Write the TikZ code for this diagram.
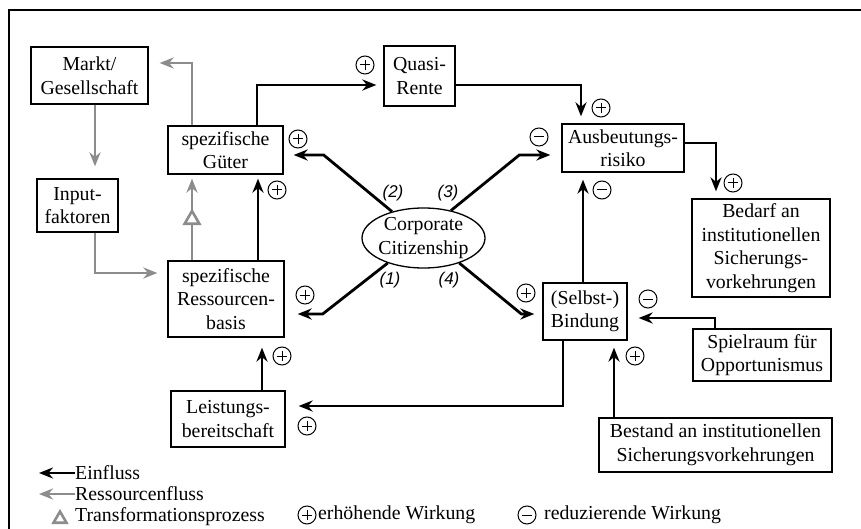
\documentclass[tikz,border=0pt]{standalone}
\usepackage{fontspec}
\setmainfont{Liberation Serif}
\setsansfont{Liberation Sans}
\usetikzlibrary{arrows.meta,shapes.geometric}

\definecolor{flowgray}{gray}{0.55}

\begin{document}
\begin{tikzpicture}[
    x=1pt, y=-1pt,
    font=\fontsize{19.8}{23.5}\selectfont,
    box/.style={draw, line width=1.3pt, align=center, inner sep=1pt},
    einfl/.style={line width=2.8pt, -{Stealth[length=14pt, width=11pt]}},
    flow/.style={einfl, draw=flowgray},
    num/.style={font=\sffamily\itshape\fontsize{17}{20}\selectfont},
    incr/.style={circle, draw, line width=1pt, minimum size=18pt, inner sep=0pt,
        path picture={\draw[line width=1pt]
            ([xshift=3.8pt]path picture bounding box.west) -- ([xshift=-3.8pt]path picture bounding box.east)
            ([yshift=-3.8pt]path picture bounding box.north) -- ([yshift=3.8pt]path picture bounding box.south);}},
    decr/.style={circle, draw, line width=1pt, minimum size=18pt, inner sep=0pt,
        path picture={\draw[line width=1pt]
            ([xshift=3.8pt]path picture bounding box.west) -- ([xshift=-3.8pt]path picture bounding box.east);}},
    transf/.style={regular polygon, regular polygon sides=3, draw=flowgray, fill=white,
        line width=2.6pt, minimum size=17pt, inner sep=0pt}
]
    \useasboundingbox (0,0) rectangle (861,529);
    \draw[line width=1.5pt] (9,529) |- (861,10);

    % Knoten
    \node[box, minimum width=117pt, minimum height=57pt] (markt) at (89.5,75.5) {Markt/\\Gesellschaft};
    \node[box, minimum width=115pt, minimum height=48pt] (gueter) at (225.5,150) {spezifische\\Güter};
    \node[box, minimum width=81pt, minimum height=53pt] (input) at (77.5,205.5) {Input-\\faktoren};
    \node[box, minimum width=116pt, minimum height=76pt] (ress) at (226,299) {spezifische\\Ressourcen-\\basis};
    \node[box, minimum width=114pt, minimum height=56pt] (leist) at (228,419) {Leistungs-\\bereitschaft};
    \node[box, minimum width=71pt, minimum height=60pt] (quasi) at (419.5,76) {Quasi-\\Rente};
    \node[box, minimum width=122pt, minimum height=48pt] (ausb) at (623,148) {Ausbeutungs-\\risiko};
    \node[box, minimum width=138pt, minimum height=98pt] (bedarf) at (761,248) {Bedarf an\\institutionellen\\Sicherungs-\\vorkehrungen};
    \node[box, minimum width=84pt, minimum height=57pt] (bind) at (585,311.5) {(Selbst-)\\Bindung};
    \node[box, minimum width=138pt, minimum height=52pt] (spiel) at (762,355) {Spielraum für\\Opportunismus};
    \node[box, minimum width=233pt, minimum height=54pt] (bestand) at (715.5,445) {Bestand an institutionellen\\Sicherungsvorkehrungen};
    \node[ellipse, draw, line width=1.3pt, align=center, inner xsep=-2pt, inner ysep=0pt,
        minimum width=123pt, minimum height=60pt] (cc) at (423.5,238) {Corporate\\Citizenship};

    % Ressourcenfluss
    \draw[flow] ([xshift=-33.5pt]gueter.north) |- ([shift={(11,-12.5)}]markt.east);
    \draw[flow] ([xshift=5.5pt]markt.south) -- ([shift={(17.5,-12)}]input.north);
    \draw[flow] ([xshift=17.5pt]input.south) |- ([shift={(-10,-26)}]ress.west);
    \draw[flow] ([xshift=-34pt]ress.north) -- node[transf, pos=0.5] (tr) {} ([shift={(-33.5,4)}]gueter.south);

    % Einfluss
    \draw[einfl] ([xshift=31.5pt]gueter.north) |- ([shift={(-7,9)}]quasi.west);
    \draw[einfl] ([yshift=-9pt]quasi.east) -| ([shift={(-42,-7)}]ausb.north);
    \draw[einfl] ([yshift=5pt]ausb.east) -| ([shift={(-45,-7)}]bedarf.north);
    \draw[einfl] ([xshift=-2pt]bind.north) -- ([shift={(-40,7)}]ausb.south);
    \draw[einfl] ([xshift=32pt]ress.north) -- ([shift={(32.5,4)}]gueter.south);
    \draw[einfl] ([xshift=34pt]leist.north) -- ([shift={(36,10)}]ress.south);
    \draw[einfl] ([xshift=-22pt]bind.south) |- ([shift={(13,-13)}]leist.east);
    \draw[einfl] ([xshift=-47pt]spiel.north) |- ([shift={(11,6.5)}]bind.east);
    \draw[einfl] ([xshift=-101.5pt]bestand.north) -- ([shift={(29,7)}]bind.south);

    % Corporate Citizenship
    \draw[einfl] (cc.140) -- ([shift={(40,5)}]gueter.east) -- ([shift={(10,5)}]gueter.east);
    \draw[einfl] (cc.45) -- ([shift={(-42,7)}]ausb.west) -- ([shift={(-11,7)}]ausb.west);
    \draw[einfl] (cc.215) -- ([shift={(38,15)}]ress.east) -- ([shift={(13,15)}]ress.east);
    \draw[einfl] (cc.325) -- ([shift={(-21,2.5)}]bind.west) -- ([shift={(-8,2.5)}]bind.west);
    \node[num] (n1) at (390,280) {(1)};
    \node[num] (n2) at (393,193) {(2)};
    \node[num] (n3) at (448,193) {(3)};
    \node[num] (n4) at (449,280) {(4)};

    % Wirkungen
    \node[incr] (sQuasi) at (365,65) {};
    \node[incr] (sGueter1) at (298,139) {};
    \node[incr] (sGueter2) at (277,190) {};
    \node[incr] (sAusb1) at (601,108) {};
    \node[decr] (sAusb2) at (539,137) {};
    \node[decr] (sAusb3) at (602,190) {};
    \node[incr] (sBedarf) at (733,183) {};
    \node[incr] (sRess1) at (305,295) {};
    \node[incr] (sRess2) at (282,356) {};
    \node[incr] (sBind1) at (526,293) {};
    \node[decr] (sBind2) at (648,299) {};
    \node[incr] (sBind3) at (635,356) {};
    \node[incr] (sLeist) at (307,426) {};

    % Legende
    \node[anchor=west, inner sep=0pt] (legEinfl) at (75,473) {Einfluss};
    \draw[einfl] (legEinfl.west) -- ++(-36,0);
    \node[anchor=west, inner sep=0pt] (legFlow) at (75,494) {Ressourcenfluss};
    \draw[flow] (legFlow.west) -- ++(-36,0);
    \node[transf, minimum size=15pt] (legTrSym) at (60,519) {};
    \node[anchor=west, inner sep=0pt] (legTr) at (75,517) {Transformationsprozess};
    \node[incr] (legIncrSym) at (307,515) {};
    \node[anchor=west, inner sep=0pt] (legIncr) at (318,515) {erhöhende Wirkung};
    \node[decr] (legDecrSym) at (527,515) {};
    \node[anchor=west, inner sep=0pt] (legDecr) at (544,515) {reduzierende Wirkung};
\end{tikzpicture}
\end{document}
